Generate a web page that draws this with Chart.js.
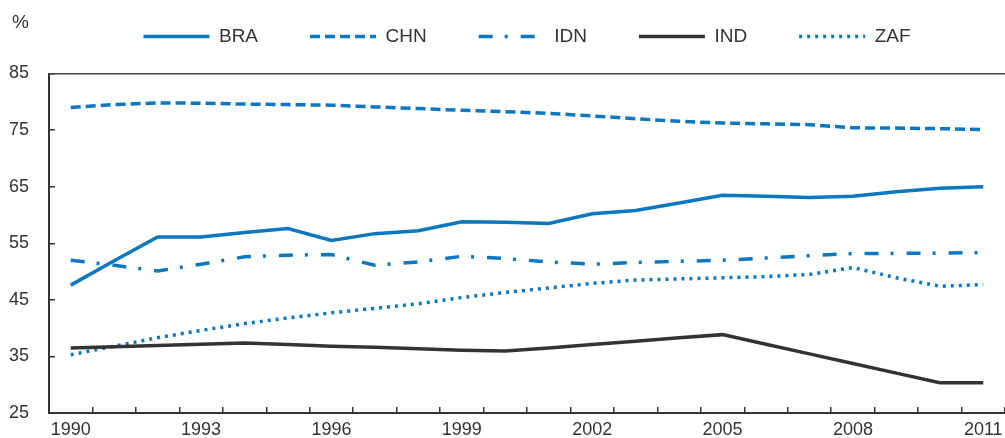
<!DOCTYPE html>
<html>
<head>
<meta charset="utf-8">
<script src="https://cdn.jsdelivr.net/npm/chart.js@4.4.1/dist/chart.umd.min.js"></script>
<style>
  html, body { margin: 0; padding: 0; background: #fff; }
</style>
</head>
<body>
<canvas id="chart" width="1005" height="438"></canvas>
<script>
const years = ['1990', '1991', '1992', '1993', '1994', '1995', '1996', '1997', '1998', '1999', '2000',
               '2001', '2002', '2003', '2004', '2005', '2006', '2007', '2008', '2009', '2010', '2011'];

const bra = [47.6, 51.9, 56.1, 56.1, 56.9, 57.6, 55.5, 56.7, 57.2, 58.8, 58.7,
             58.5, 60.2, 60.8, 62.1, 63.5, 63.3, 63.1, 63.3, 64.1, 64.7, 65.0];
const chn = [79.0, 79.5, 79.8, 79.75, 79.6, 79.5, 79.4, 79.1, 78.8, 78.5, 78.25,
             77.95, 77.5, 77.0, 76.55, 76.25, 76.1, 75.95, 75.4, 75.35, 75.25, 75.1];
const idn = [52.0, 51.1, 50.1, 51.3, 52.6, 52.9, 53.0, 51.1, 51.7, 52.7, 52.3,
             51.7, 51.3, 51.6, 51.8, 52.0, 52.4, 52.8, 53.2, 53.2, 53.25, 53.35];
const ind = [36.5, 36.72, 36.94, 37.16, 37.38, 37.1, 36.8, 36.6, 36.35, 36.1, 35.95,
             36.5, 37.1, 37.7, 38.3, 38.85, 37.15, 35.45, 33.75, 32.05, 30.35, 30.35];
const zaf = [35.3, 36.8, 38.3, 39.6, 40.8, 41.8, 42.7, 43.5, 44.3, 45.4, 46.3,
             47.1, 47.9, 48.5, 48.7, 48.9, 49.1, 49.5, 50.7, 48.9, 47.4, 47.7];

const yTicks = [25, 35, 45, 55, 65, 75, 85];

const blue = '#0A77BF';
const dark = '#333333';
const fontFamily = '"Liberation Sans Narrow", "Arial Narrow", "Liberation Sans", Arial, sans-serif';
const lineWidth = 3.5;

// "%" unit label in the top-left corner
const unitLabel = {
    id: 'unitLabel',
    afterDraw(chart) {
        const c = chart.ctx;
        c.save();
        c.font = '19px ' + fontFamily;
        c.fillStyle = dark;
        c.textBaseline = 'alphabetic';
        c.fillText('%', 12, 28);
        c.restore();
    }
};

// legend swatches as short lines carrying the series dash pattern
function legendLabels(chart) {
    return Chart.defaults.plugins.legend.labels.generateLabels(chart).map((item, i) => {
        const ds = chart.data.datasets[i];
        return Object.assign(item, {
            pointStyle: 'line',
            lineWidth: lineWidth,
            lineDash: ds.borderDash,
            lineCap: 'butt',
            strokeStyle: ds.borderColor,
            fillStyle: ds.borderColor
        });
    });
}

const ctx = document.getElementById('chart').getContext('2d');
new Chart(ctx, {
    type: 'line',
    data: {
        labels: years,
        datasets: [
            { label: 'BRA', data: bra, borderColor: blue, borderDash: [] },
            { label: 'CHN', data: chn, borderColor: blue, borderDash: [10, 5] },
            { label: 'IDN', data: idn, borderColor: blue, borderDash: [14, 12, 3, 13] },
            { label: 'IND', data: ind, borderColor: dark, borderDash: [] },
            { label: 'ZAF', data: zaf, borderColor: blue, borderDash: [3, 5] }
        ]
    },
    options: {
        responsive: false,
        animation: false,
        layout: { padding: { top: -25, left: 0, bottom: 0, right: -4 } },
        elements: {
            point: { radius: 0 },
            line: { tension: 0, borderWidth: lineWidth, fill: false, borderCapStyle: 'butt' }
        },
        plugins: {
            legend: {
                position: 'top',
                fullSize: false,
                align: 'center',
                labels: {
                    usePointStyle: true,
                    pointStyleWidth: 66,
                    padding: 52,
                    color: dark,
                    font: { family: fontFamily, size: 19 },
                    generateLabels: legendLabels
                }
            },
            tooltip: { enabled: false }
        },
        scales: {
            x: {
                type: 'category',
                offset: true,
                grid: { display: true, offset: true, drawOnChartArea: false, drawTicks: true,
                        tickLength: -6, color: dark, lineWidth: 1.5 },
                border: { display: true, color: dark, width: 2 },
                ticks: {
                    autoSkip: false, maxRotation: 0, padding: 12, color: dark,
                    font: { family: fontFamily, size: 18 },
                    callback: (v, i) => (i % 3 === 0 ? years[i] : '')
                },
                afterFit: (scale) => {
                    scale.height = 25;
                    scale.paddingLeft = 0;
                    scale.paddingRight = 0;
                }
            },
            x2: {
                type: 'category',
                position: 'top',
                offset: true,
                grid: { display: false },
                border: { display: true, color: '#444', width: 1.5 },
                ticks: { display: false },
                afterFit: (scale) => { scale.height = 17.5; }
            },
            y: {
                min: 25,
                max: 85,
                afterBuildTicks: (scale) => { scale.ticks = yTicks.map(v => ({ value: v })); },
                grid: { drawOnChartArea: false, drawTicks: true, tickLength: -6, color: dark, lineWidth: 1.5 },
                border: { display: true, color: dark, width: 2 },
                ticks: { padding: 26, color: dark, font: { family: fontFamily, size: 18 } },
                afterFit: (scale) => {
                    scale.width = 49;
                    scale.paddingTop = 0;
                    scale.paddingBottom = 0;
                }
            }
        }
    },
    plugins: [unitLabel]
});
</script>
</body>
</html>
